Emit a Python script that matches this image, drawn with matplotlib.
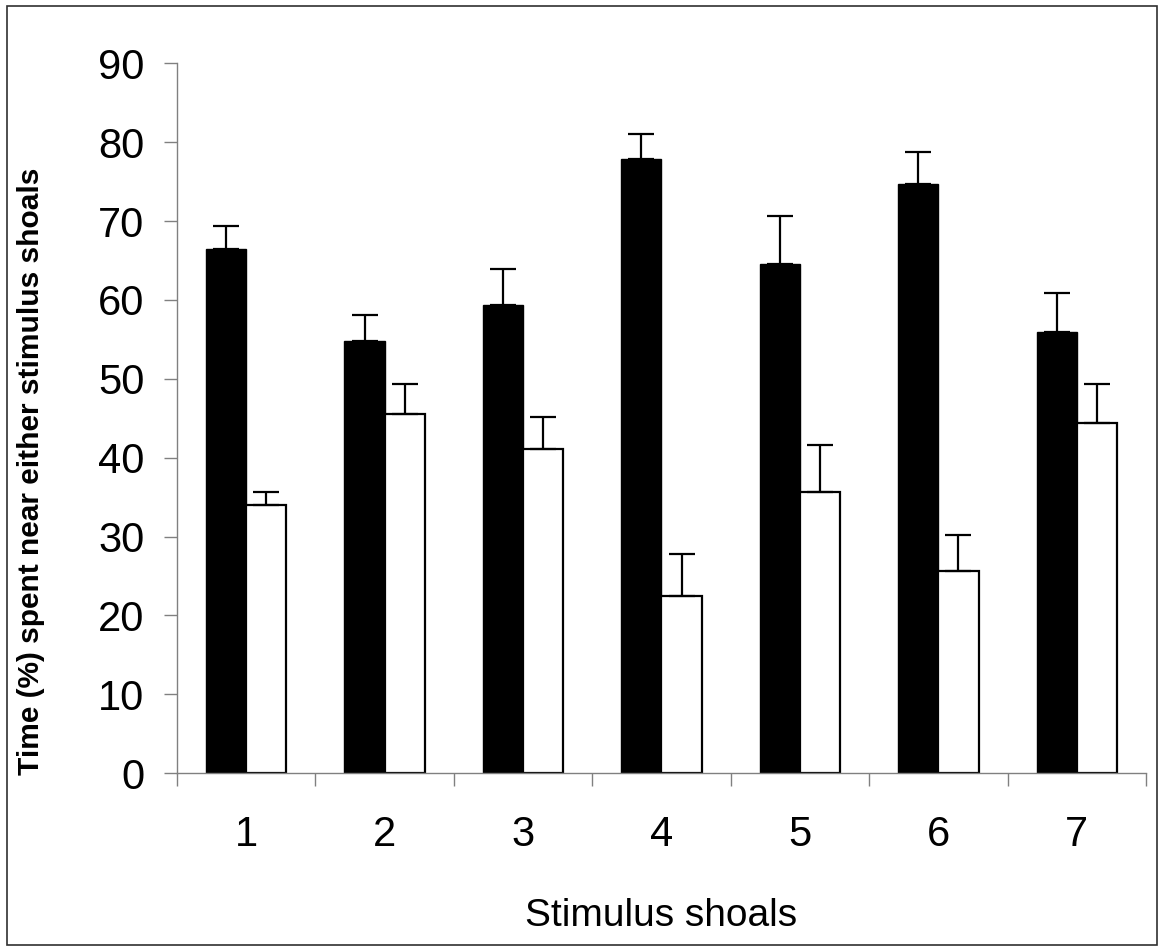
import matplotlib
matplotlib.use("Agg")
import matplotlib.pyplot as plt
from matplotlib.patches import Rectangle
import numpy as np

plt.rcParams["font.family"] = ["Liberation Sans", "DejaVu Sans"]

shoals = ["1", "2", "3", "4", "5", "6", "7"]
black_vals = [66.5, 54.8, 59.3, 77.9, 64.6, 74.7, 55.9]
black_err = [2.9, 3.3, 4.6, 3.1, 6.1, 4.1, 5.0]
white_vals = [34.0, 45.6, 41.1, 22.5, 35.7, 25.6, 44.4]
white_err = [1.7, 3.7, 4.1, 5.3, 5.9, 4.6, 5.0]

fig = plt.figure(figsize=(11.59, 9.51), dpi=100)
ax = fig.add_axes([0.1527, 0.1869, 0.8361, 0.7465])

# frame around the whole figure
fig.patches.append(Rectangle((7 / 1159, 6 / 951), 1 - 9 / 1159, 1 - 12 / 951,
                             transform=fig.transFigure, fill=False,
                             edgecolor="#303030", linewidth=1.2))

x = np.arange(len(shoals))
w = 0.29
err_kw = dict(ecolor="black", elinewidth=1.6, capsize=9.5, capthick=1.6)
ax.bar(x - w / 2, black_vals, w, color="black", edgecolor="black", linewidth=1.0,
       yerr=[np.zeros(len(x)), black_err], error_kw=err_kw)
ax.bar(x + w / 2, white_vals, w, color="white", edgecolor="black", linewidth=1.6,
       yerr=[np.zeros(len(x)), white_err], error_kw=err_kw)

ax.set_xlim(-0.5, len(shoals) - 0.5)
ax.set_ylim(0, 90)
ax.set_yticks(range(0, 91, 10))

ax.set_xticks(x)
ax.set_xticklabels(shoals)
ax.set_xticks(np.arange(len(shoals) + 1) - 0.5, minor=True)
ax.tick_params(axis="x", which="major", length=0, pad=30, labelsize=30)
ax.tick_params(axis="x", which="minor", length=9.5, width=1, color="#808080")
ax.tick_params(axis="y", length=9.5, width=1, color="#808080", pad=14, labelsize=30)

for side in ["top", "right"]:
    ax.spines[side].set_visible(False)
for side in ["left", "bottom"]:
    ax.spines[side].set_color("#808080")
    ax.spines[side].set_linewidth(1.0)

ax.set_xlabel("Stimulus shoals", fontsize=28)
ax.xaxis.set_label_coords(0.5, -0.1756)
ax.set_ylabel("Time (%) spent near either stimulus shoals", fontsize=21.5, fontweight="bold")
ax.yaxis.set_label_coords(-0.136, 0.425)

fig.savefig("out.png", dpi=100, facecolor="white")
